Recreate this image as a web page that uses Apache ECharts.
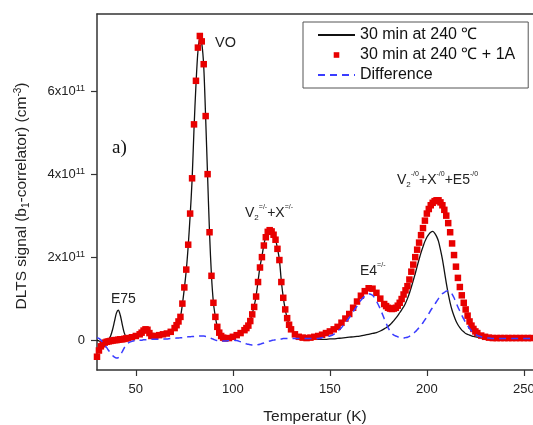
<!DOCTYPE html>
<html><head><meta charset="utf-8">
<script src="https://cdn.jsdelivr.net/npm/echarts@6/dist/echarts.min.js"></script>
<style>html,body{margin:0;padding:0;background:#fff}#c{width:533px;height:425px}</style>
</head><body><div id="c"></div>
<script>
// Temperature (K)
const temps = [
  30,31,32,33,34,35,36,37,38,39,
  40,41,42,43,44,45,46,48,50,52,
  53,54,55,56,57,58,60,62,64,66,
  68,70,71,72,73,74,75,76,77,78,
  79,80,81,82,83,84,85,86,87,88,
  89,90,91,92,93,94,95,96,98,100,
  102,104,106,107,108,109,110,111,112,113,
  114,115,116,117,118,119,120,121,122,123,
  124,125,126,127,128,129,130,132,134,136,
  138,140,142,144,146,148,150,152,154,156,
  158,160,162,164,166,168,170,172,174,176,
  178,179,180,181,182,183,184,185,186,187,
  188,189,190,191,192,193,194,195,196,197,
  198,199,200,201,202,203,204,205,206,207,
  208,209,210,211,212,213,214,215,216,217,
  218,219,220,221,222,223,224,225,226,228,230,232,234,236,
  238,240,242,244,246,248,250,252,254,256,
  258
];
// DLTS signal in units of 1e11 cm^-3 : 30 min at 240 °C
const signalAnneal = [
  0.00,-0.02,-0.04,-0.04,-0.03,-0.02,0.02,0.10,0.25,0.45,
  0.65,0.72,0.60,0.38,0.18,0.08,0.05,0.07,0.10,0.14,
  0.18,0.23,0.26,0.25,0.17,0.10,0.10,0.12,0.14,0.16,
  0.20,0.29,0.36,0.45,0.56,0.86,1.24,1.68,2.27,3.00,
  3.85,5.10,6.15,6.95,7.28,7.15,6.60,5.35,3.95,2.58,
  1.55,0.90,0.56,0.32,0.18,0.10,0.06,0.04,0.05,0.08,
  0.12,0.17,0.24,0.30,0.37,0.48,0.64,0.82,1.07,1.42,
  1.77,2.02,2.30,2.50,2.62,2.66,2.63,2.55,2.43,2.21,
  1.94,1.42,1.03,0.74,0.53,0.37,0.26,0.14,0.08,0.05,
  0.04,0.03,0.03,0.02,0.02,0.02,0.03,0.03,0.04,0.05,
  0.06,0.07,0.08,0.09,0.10,0.12,0.14,0.16,0.18,0.22,
  0.27,0.30,0.33,0.37,0.42,0.47,0.53,0.59,0.66,0.73,
  0.80,0.89,1.00,1.13,1.28,1.44,1.60,1.78,1.95,2.11,
  2.25,2.38,2.48,2.55,2.60,2.62,2.58,2.50,2.38,2.18,
  1.95,1.67,1.38,1.12,0.90,0.72,0.58,0.46,0.37,0.30,
  0.24,0.20,0.16,0.14,0.12,0.10,0.09,0.08,0.07,0.06,0.05,0.05,0.05,0.05,
  0.05,0.05,0.05,0.05,0.05,0.05,0.05,0.05,0.05,0.05,
  0.05
];
// 30 min at 240 °C + 1A
const signalAnneal1A = [
  -0.40,-0.25,-0.15,-0.10,-0.06,-0.04,-0.03,-0.02,-0.01,0.00,
  0.00,0.01,0.02,0.02,0.03,0.04,0.05,0.07,0.10,0.14,
  0.18,0.23,0.26,0.25,0.17,0.10,0.10,0.12,0.14,0.16,
  0.20,0.29,0.36,0.45,0.56,0.88,1.27,1.70,2.30,3.05,
  3.90,5.20,6.25,7.05,7.33,7.20,6.65,5.40,4.00,2.60,
  1.55,0.90,0.56,0.32,0.18,0.10,0.06,0.04,0.05,0.08,
  0.12,0.17,0.24,0.29,0.35,0.46,0.62,0.80,1.05,1.40,
  1.75,2.00,2.28,2.48,2.61,2.65,2.62,2.54,2.42,2.20,
  1.93,1.40,1.02,0.74,0.53,0.37,0.26,0.14,0.08,0.06,
  0.05,0.06,0.08,0.10,0.13,0.17,0.21,0.26,0.32,0.42,
  0.52,0.63,0.78,0.93,1.07,1.18,1.25,1.24,1.14,1.00,
  0.87,0.82,0.78,0.76,0.75,0.76,0.78,0.83,0.90,0.99,
  1.10,1.20,1.30,1.46,1.65,1.82,2.00,2.18,2.35,2.53,
  2.70,2.88,3.05,3.16,3.25,3.31,3.35,3.37,3.37,3.32,
  3.25,3.14,3.00,2.82,2.60,2.33,2.05,1.77,1.50,1.28,
  1.08,0.90,0.74,0.59,0.45,0.35,0.27,0.21,0.17,0.11,0.08,0.06,0.05,0.05,
  0.05,0.05,0.05,0.05,0.05,0.05,0.05,0.05,0.05,0.05,
  0.05
];
// Difference
const signalDiff = [
  0.06,0.04,0.00,-0.06,-0.12,-0.18,-0.25,-0.31,-0.37,-0.41,
  -0.43,-0.42,-0.36,-0.28,-0.19,-0.12,-0.07,-0.03,-0.01,0.00,
  0.00,0.01,0.01,0.01,0.02,0.02,0.02,0.02,0.03,0.03,
  0.04,0.04,0.05,0.05,0.06,0.06,0.07,0.07,0.08,0.08,
  0.09,0.09,0.10,0.10,0.10,0.10,0.10,0.09,0.08,0.06,
  0.04,0.02,0.00,-0.01,-0.02,-0.02,-0.02,-0.02,-0.01,0.00,
  -0.01,-0.04,-0.07,-0.09,-0.10,-0.11,-0.12,-0.12,-0.12,-0.11,
  -0.10,-0.08,-0.07,-0.05,-0.04,-0.02,-0.01,0.00,0.01,0.02,
  0.03,0.03,0.04,0.04,0.04,0.04,0.04,0.04,0.04,0.04,
  0.04,0.04,0.04,0.04,0.06,0.08,0.10,0.14,0.22,0.30,
  0.42,0.54,0.68,0.82,0.96,1.06,1.12,1.08,0.94,0.75,
  0.52,0.41,0.30,0.22,0.16,0.12,0.10,0.08,0.06,0.05,
  0.05,0.06,0.07,0.09,0.12,0.16,0.20,0.25,0.30,0.36,
  0.42,0.49,0.56,0.64,0.72,0.79,0.86,0.93,1.00,1.06,
  1.12,1.15,1.18,1.19,1.18,1.11,1.02,0.91,0.80,0.70,
  0.60,0.51,0.42,0.35,0.28,0.22,0.17,0.14,0.11,0.08,0.06,0.05,0.04,0.04,
  0.04,0.04,0.04,0.04,0.04,0.04,0.04,0.04,0.04,0.04,
  0.04
];
const xTicks = [50,100,150,200,250];
const yTicks = [0,2,4,6];
const seriesNames = ['30 min at 240 ℃', '30 min at 240 ℃ + 1A', 'Difference'];

const pair = arr => temps.map((t, i) => [t, arr[i]]);
const FONT = "'Liberation Sans', Arial, Helvetica, sans-serif";
const axisCol = '#333';
const X_MIN = 30, X_MAX = 254.7;

const chart = echarts.init(document.getElementById('c'), null, {renderer: 'canvas'});
chart.setOption({
  animation: false,
  backgroundColor: '#fff',
  textStyle: {fontFamily: FONT},
  grid: {left: 97, top: 14, right: 0, bottom: 55, show: false, containLabel: false, outerBoundsMode: 'none'},
  legend: {
    orient: 'vertical', left: 303, top: 22,
    itemWidth: 37, itemHeight: 7, itemGap: 4,
    padding: [5, 13, 5, 14],
    backgroundColor: '#fff', borderColor: '#555', borderWidth: 1,
    textStyle: {fontSize: 16, color: '#111', fontFamily: FONT},
    data: [
      {name: seriesNames[0], itemStyle: {opacity: 0}},
      {name: seriesNames[1]},
      {name: seriesNames[2], itemStyle: {opacity: 0}}
    ]
  },
  xAxis: [{
    type: 'value', min: X_MIN, max: X_MAX,
    name: 'Temperatur (K)', nameLocation: 'middle', nameGap: 39,
    nameTextStyle: {fontSize: 15.5, color: '#222', fontFamily: FONT},
    axisLine: {show: true, onZero: false, lineStyle: {color: axisCol, width: 1.5}},
    axisTick: {show: true, length: 6, customValues: xTicks, lineStyle: {color: axisCol, width: 1.2}},
    axisLabel: {customValues: xTicks, fontSize: 13, color: '#222', margin: 13, fontFamily: FONT},
    splitLine: {show: false}
  }, {
    type: 'value', min: X_MIN, max: X_MAX, position: 'top',
    axisLine: {show: true, onZero: false, lineStyle: {color: axisCol, width: 1.5}},
    axisTick: {show: false}, axisLabel: {show: false}, splitLine: {show: false}
  }],
  yAxis: {
    type: 'value', min: -0.72, max: 7.86,
    name: '{a|DLTS signal (b}{sub|1}{a|-correlator) (cm}{sup|-3}{a|)}',
    nameLocation: 'middle', nameGap: 66,
    nameTextStyle: {
      color: '#222', fontFamily: FONT, padding: [0, 8, 0, 0],
      rich: {
        a: {fontSize: 15.5, lineHeight: 18, color: '#222', fontFamily: FONT},
        sub: {fontSize: 10, lineHeight: 9, verticalAlign: 'bottom', color: '#222', fontFamily: FONT},
        sup: {fontSize: 10, lineHeight: 9, verticalAlign: 'top', color: '#222', fontFamily: FONT}
      }
    },
    axisLine: {show: true, onZero: false, lineStyle: {color: axisCol, width: 1.5}},
    axisTick: {show: true, length: 6, customValues: yTicks, lineStyle: {color: axisCol, width: 1.2}},
    axisLabel: {
      customValues: yTicks, margin: 12, color: '#222',
      formatter: v => v === 0 ? '{m|0}' : '{m|' + v + 'x10}{s|11}',
      rich: {
        m: {fontSize: 13, lineHeight: 15, color: '#222', fontFamily: FONT},
        s: {fontSize: 9, lineHeight: 9, verticalAlign: 'top', color: '#222', fontFamily: FONT}
      }
    },
    splitLine: {show: false}
  },
  series: [
    {
      name: seriesNames[0], type: 'line', data: pair(signalAnneal),
      symbol: 'none', smooth: 0.3, z: 2,
      lineStyle: {color: '#111', width: 1.3}, itemStyle: {color: '#111'}
    },
    {
      name: seriesNames[1], type: 'line', data: pair(signalAnneal1A),
      symbol: 'rect', symbolSize: 6.5, showSymbol: true, showAllSymbol: true, z: 3,
      lineStyle: {width: 0, opacity: 0}, itemStyle: {color: '#e80000'}
    },
    {
      name: seriesNames[2], type: 'line', data: pair(signalDiff),
      symbol: 'none', smooth: 0.3, z: 4,
      lineStyle: {color: '#3a3cff', width: 1.5, type: [7, 5]}, itemStyle: {color: '#3a3cff'}
    }
  ],
  graphic: [
    {type: 'text', left: 215, top: 35, z: 10, style: {text: 'VO', font: '14.5px ' + FONT, fill: '#222'}},
    {type: 'text', left: 112, top: 139, z: 10, style: {text: 'a)', font: "19px 'Liberation Serif', 'Times New Roman', serif", fill: '#111'}},
    {type: 'text', left: 111, top: 292, z: 10, style: {text: 'E75', font: '14px ' + FONT, fill: '#222'}},
    {type: 'text', left: 245, top: 204, z: 10, style: {
      text: '{b|V}{sb|2}{sp|=/-}{b|+X}{sp|=/-}',
      rich: {
        b: {fontSize: 14, lineHeight: 18, fill: '#222', fontFamily: FONT},
        sb: {fontSize: 8, lineHeight: 8, verticalAlign: 'bottom', fill: '#222', fontFamily: FONT},
        sp: {fontSize: 7, lineHeight: 7, verticalAlign: 'top', fill: '#222', fontFamily: FONT}
      }}},
    {type: 'text', left: 360, top: 262, z: 10, style: {
      text: '{b|E4}{sp|=/-}',
      rich: {
        b: {fontSize: 14, lineHeight: 18, fill: '#222', fontFamily: FONT},
        sp: {fontSize: 7, lineHeight: 7, verticalAlign: 'top', fill: '#222', fontFamily: FONT}
      }}},
    {type: 'text', left: 397, top: 171, z: 10, style: {
      text: '{b|V}{sb|2}{sp|-/0}{b|+X}{sp|-/0}{b|+E5}{sp|-/0}',
      rich: {
        b: {fontSize: 14, lineHeight: 18, fill: '#222', fontFamily: FONT},
        sb: {fontSize: 8, lineHeight: 8, verticalAlign: 'bottom', fill: '#222', fontFamily: FONT},
        sp: {fontSize: 7, lineHeight: 7, verticalAlign: 'top', fill: '#222', fontFamily: FONT}
      }}}
  ]
});
</script>
</body></html>
